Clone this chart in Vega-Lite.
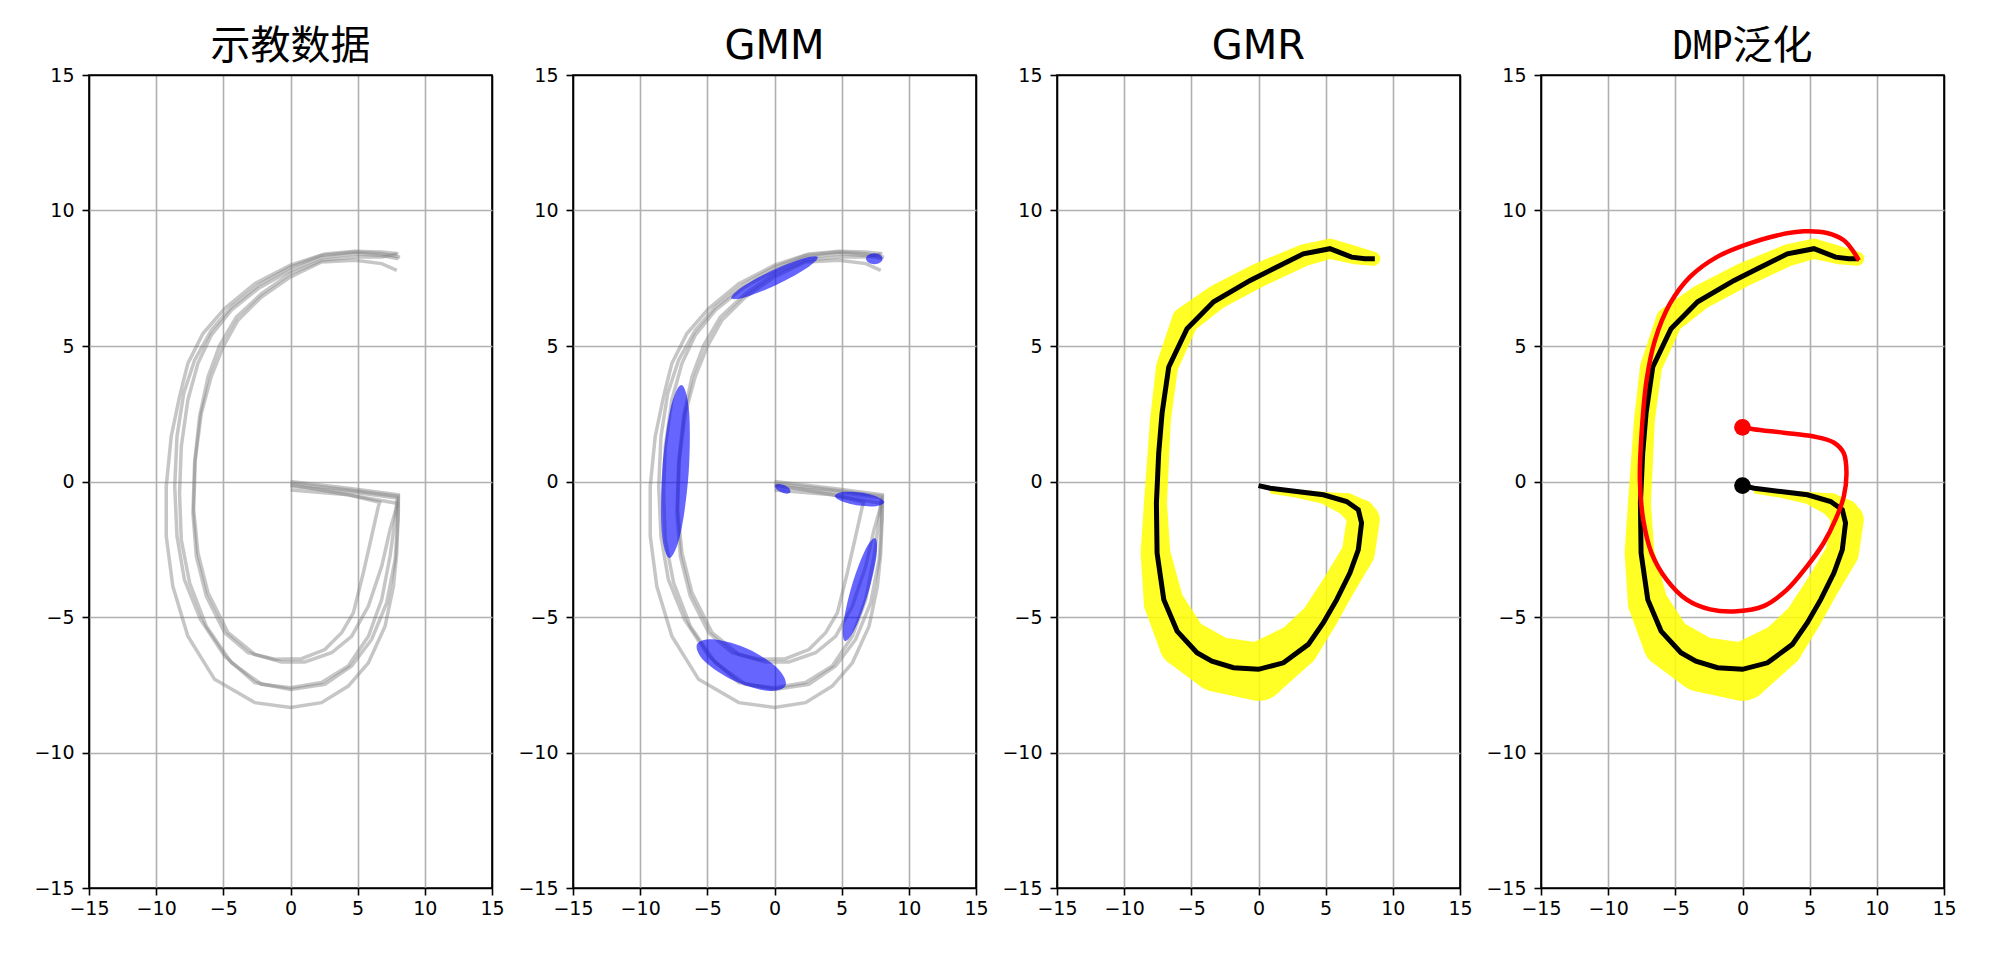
{
  "$schema": "https://vega.github.io/schema/vega-lite/v6.json",
  "background": "white",
  "padding": {"left": 33, "top": 26, "right": 5, "bottom": 5},
  "spacing": 12,
  "config": {
    "view": {"stroke": "black", "strokeWidth": 1.6},
    "axis": {"grid": true, "gridWidth": 1.6, "domain": false, "tickColor": "black", "tickSize": 7, "tickWidth": 1.6, "labelFont": "DejaVu Sans", "labelFontSize": 19, "labelColor": "black", "labelFlush": false, "title": null},
    "axisX": {"labelPadding": 4},
    "axisY": {"labelPadding": 8},
    "title": {"fontSize": 40, "fontWeight": "normal", "color": "black", "font": "DejaVu Sans", "offset": -1, "baseline": "alphabetic"}
  },
  "datasets": {
    "demos": [
      {"demo": "A", "t": 1, "x": 8.03, "y": 8.40}, {"demo": "A", "t": 2, "x": 6.79, "y": 8.47}, {"demo": "A", "t": 3, "x": 4.80, "y": 8.50}, {"demo": "A", "t": 4, "x": 2.56, "y": 8.40}, {"demo": "A", "t": 5, "x": 0, "y": 7.98}, {"demo": "A", "t": 6, "x": -2.66, "y": 7.30}, {"demo": "A", "t": 7, "x": -4.90, "y": 6.38}, {"demo": "A", "t": 8, "x": -6.52, "y": 5.46}, {"demo": "A", "t": 9, "x": -7.64, "y": 4.36}, {"demo": "A", "t": 10, "x": -8.26, "y": 3.13}, {"demo": "A", "t": 11, "x": -8.88, "y": 1.66}, {"demo": "A", "t": 12, "x": -9.25, "y": -0.18}, {"demo": "A", "t": 13, "x": -9.25, "y": -2.02}, {"demo": "A", "t": 14, "x": -8.76, "y": -3.87}, {"demo": "A", "t": 15, "x": -7.64, "y": -5.71}, {"demo": "A", "t": 16, "x": -5.65, "y": -7.30}, {"demo": "A", "t": 17, "x": -2.66, "y": -8.16}, {"demo": "A", "t": 18, "x": 0, "y": -8.34}, {"demo": "A", "t": 19, "x": 2.31, "y": -8.16}, {"demo": "A", "t": 20, "x": 4.30, "y": -7.55}, {"demo": "A", "t": 21, "x": 5.80, "y": -6.69}, {"demo": "A", "t": 22, "x": 7.04, "y": -5.34}, {"demo": "A", "t": 23, "x": 7.66, "y": -3.87}, {"demo": "A", "t": 24, "x": 7.91, "y": -2.64}, {"demo": "A", "t": 25, "x": 8.03, "y": -1.04}, {"demo": "A", "t": 26, "x": 8.03, "y": -0.49}, {"demo": "A", "t": 27, "x": 4.30, "y": -0.25}, {"demo": "A", "t": 28, "x": 0, "y": 0},
      {"demo": "B", "t": 1, "x": 8.16, "y": 8.28}, {"demo": "B", "t": 2, "x": 6.79, "y": 8.40}, {"demo": "B", "t": 3, "x": 4.80, "y": 8.47}, {"demo": "B", "t": 4, "x": 2.31, "y": 8.34}, {"demo": "B", "t": 5, "x": 0, "y": 7.91}, {"demo": "B", "t": 6, "x": -2.41, "y": 7.24}, {"demo": "B", "t": 7, "x": -4.40, "y": 6.44}, {"demo": "B", "t": 8, "x": -5.90, "y": 5.58}, {"demo": "B", "t": 9, "x": -7.14, "y": 4.48}, {"demo": "B", "t": 10, "x": -7.95, "y": 3.25}, {"demo": "B", "t": 11, "x": -8.45, "y": 1.66}, {"demo": "B", "t": 12, "x": -8.62, "y": -0.18}, {"demo": "B", "t": 13, "x": -8.45, "y": -2.02}, {"demo": "B", "t": 14, "x": -7.90, "y": -3.62}, {"demo": "B", "t": 15, "x": -6.70, "y": -5.09}, {"demo": "B", "t": 16, "x": -4.90, "y": -6.44}, {"demo": "B", "t": 17, "x": -2.66, "y": -7.42}, {"demo": "B", "t": 18, "x": 0, "y": -7.67}, {"demo": "B", "t": 19, "x": 2.56, "y": -7.48}, {"demo": "B", "t": 20, "x": 4.55, "y": -6.81}, {"demo": "B", "t": 21, "x": 6.04, "y": -5.83}, {"demo": "B", "t": 22, "x": 7.16, "y": -4.48}, {"demo": "B", "t": 23, "x": 7.79, "y": -2.88}, {"demo": "B", "t": 24, "x": 7.99, "y": -1.41}, {"demo": "B", "t": 25, "x": 8.03, "y": -0.55}, {"demo": "B", "t": 26, "x": 4.30, "y": -0.31}, {"demo": "B", "t": 27, "x": 0, "y": -0.06},
      {"demo": "C", "t": 1, "x": 8.03, "y": 8.22}, {"demo": "C", "t": 2, "x": 6.79, "y": 8.34}, {"demo": "C", "t": 3, "x": 4.80, "y": 8.40}, {"demo": "C", "t": 4, "x": 2.31, "y": 8.26}, {"demo": "C", "t": 5, "x": 0, "y": 7.79}, {"demo": "C", "t": 6, "x": -2.41, "y": 7.12}, {"demo": "C", "t": 7, "x": -4.40, "y": 6.32}, {"demo": "C", "t": 8, "x": -5.90, "y": 5.40}, {"demo": "C", "t": 9, "x": -6.89, "y": 4.36}, {"demo": "C", "t": 10, "x": -7.64, "y": 3.01}, {"demo": "C", "t": 11, "x": -8.13, "y": 1.29}, {"demo": "C", "t": 12, "x": -8.26, "y": -0.43}, {"demo": "C", "t": 13, "x": -8.13, "y": -2.15}, {"demo": "C", "t": 14, "x": -7.51, "y": -3.74}, {"demo": "C", "t": 15, "x": -6.27, "y": -5.34}, {"demo": "C", "t": 16, "x": -4.40, "y": -6.69}, {"demo": "C", "t": 17, "x": -2.16, "y": -7.48}, {"demo": "C", "t": 18, "x": 0, "y": -7.61}, {"demo": "C", "t": 19, "x": 2.31, "y": -7.42}, {"demo": "C", "t": 20, "x": 4.30, "y": -6.81}, {"demo": "C", "t": 21, "x": 5.80, "y": -5.71}, {"demo": "C", "t": 22, "x": 6.79, "y": -4.36}, {"demo": "C", "t": 23, "x": 7.41, "y": -2.76}, {"demo": "C", "t": 24, "x": 7.79, "y": -1.41}, {"demo": "C", "t": 25, "x": 7.91, "y": -0.80}, {"demo": "C", "t": 26, "x": 4.30, "y": -0.49}, {"demo": "C", "t": 27, "x": 0, "y": -0.31},
      {"demo": "D", "t": 1, "x": 7.91, "y": 7.79}, {"demo": "D", "t": 2, "x": 6.79, "y": 8.04}, {"demo": "D", "t": 3, "x": 4.80, "y": 8.16}, {"demo": "D", "t": 4, "x": 2.31, "y": 8.10}, {"demo": "D", "t": 5, "x": 0, "y": 7.55}, {"demo": "D", "t": 6, "x": -2.16, "y": 6.81}, {"demo": "D", "t": 7, "x": -3.91, "y": 5.95}, {"demo": "D", "t": 8, "x": -5.02, "y": 4.97}, {"demo": "D", "t": 9, "x": -5.90, "y": 3.87}, {"demo": "D", "t": 10, "x": -6.64, "y": 2.52}, {"demo": "D", "t": 11, "x": -7.09, "y": 0.80}, {"demo": "D", "t": 12, "x": -7.21, "y": -1.04}, {"demo": "D", "t": 13, "x": -6.89, "y": -2.64}, {"demo": "D", "t": 14, "x": -6.14, "y": -4.11}, {"demo": "D", "t": 15, "x": -4.65, "y": -5.58}, {"demo": "D", "t": 16, "x": -2.66, "y": -6.38}, {"demo": "D", "t": 17, "x": -0.67, "y": -6.66}, {"demo": "D", "t": 18, "x": 1.07, "y": -6.66}, {"demo": "D", "t": 19, "x": 3.06, "y": -6.32}, {"demo": "D", "t": 20, "x": 4.55, "y": -5.71}, {"demo": "D", "t": 21, "x": 5.80, "y": -4.60}, {"demo": "D", "t": 22, "x": 6.79, "y": -3.13}, {"demo": "D", "t": 23, "x": 7.41, "y": -1.78}, {"demo": "D", "t": 24, "x": 7.91, "y": -0.92}, {"demo": "D", "t": 25, "x": 7.91, "y": -0.61}, {"demo": "D", "t": 26, "x": 4.30, "y": -0.37}, {"demo": "D", "t": 27, "x": 0, "y": -0.18},
      {"demo": "E", "t": 1, "x": 7.91, "y": 8.40}, {"demo": "E", "t": 2, "x": 6.79, "y": 8.28}, {"demo": "E", "t": 3, "x": 4.80, "y": 8.28}, {"demo": "E", "t": 4, "x": 2.31, "y": 8.16}, {"demo": "E", "t": 5, "x": 0, "y": 7.67}, {"demo": "E", "t": 6, "x": -2.16, "y": 6.93}, {"demo": "E", "t": 7, "x": -4.03, "y": 6.07}, {"demo": "E", "t": 8, "x": -5.27, "y": 5.03}, {"demo": "E", "t": 9, "x": -6.14, "y": 3.87}, {"demo": "E", "t": 10, "x": -6.77, "y": 2.39}, {"demo": "E", "t": 11, "x": -7.14, "y": 0.67}, {"demo": "E", "t": 12, "x": -7.26, "y": -1.17}, {"demo": "E", "t": 13, "x": -7.01, "y": -2.76}, {"demo": "E", "t": 14, "x": -6.27, "y": -4.23}, {"demo": "E", "t": 15, "x": -4.90, "y": -5.58}, {"demo": "E", "t": 16, "x": -3.16, "y": -6.32}, {"demo": "E", "t": 17, "x": -1.17, "y": -6.56}, {"demo": "E", "t": 18, "x": 0.82, "y": -6.54}, {"demo": "E", "t": 19, "x": 2.56, "y": -6.20}, {"demo": "E", "t": 20, "x": 3.81, "y": -5.58}, {"demo": "E", "t": 21, "x": 4.68, "y": -4.85}, {"demo": "E", "t": 22, "x": 5.42, "y": -3.37}, {"demo": "E", "t": 23, "x": 6.04, "y": -2.02}, {"demo": "E", "t": 24, "x": 6.54, "y": -0.92}, {"demo": "E", "t": 25, "x": 6.64, "y": -0.77}, {"demo": "E", "t": 26, "x": 4.30, "y": -0.49}, {"demo": "E", "t": 27, "x": 0, "y": -0.12}
    ],
    "gmm": [
      {"comp": 1, "t": 1, "x": 3.22, "y": 8.28}, {"comp": 1, "t": 2, "x": 2.44, "y": 7.89}, {"comp": 1, "t": 3, "x": 0.24, "y": 7.28}, {"comp": 1, "t": 4, "x": -2.11, "y": 6.81}, {"comp": 1, "t": 5, "x": -3.22, "y": 6.76}, {"comp": 1, "t": 6, "x": -2.44, "y": 7.16}, {"comp": 1, "t": 7, "x": -0.24, "y": 7.77}, {"comp": 1, "t": 8, "x": 2.11, "y": 8.23},
      {"comp": 2, "t": 1, "x": 8.05, "y": 8.22}, {"comp": 2, "t": 2, "x": 7.87, "y": 8.36}, {"comp": 2, "t": 3, "x": 7.43, "y": 8.42}, {"comp": 2, "t": 4, "x": 6.99, "y": 8.36}, {"comp": 2, "t": 5, "x": 6.81, "y": 8.22}, {"comp": 2, "t": 6, "x": 6.99, "y": 8.08}, {"comp": 2, "t": 7, "x": 7.43, "y": 8.02}, {"comp": 2, "t": 8, "x": 7.87, "y": 8.08},
      {"comp": 3, "t": 1, "x": -6.93, "y": 3.56}, {"comp": 3, "t": 2, "x": -6.36, "y": 2.60}, {"comp": 3, "t": 3, "x": -6.39, "y": 0.33}, {"comp": 3, "t": 4, "x": -6.99, "y": -1.91}, {"comp": 3, "t": 5, "x": -7.82, "y": -2.82}, {"comp": 3, "t": 6, "x": -8.39, "y": -1.86}, {"comp": 3, "t": 7, "x": -8.36, "y": 0.40}, {"comp": 3, "t": 8, "x": -7.76, "y": 2.65},
      {"comp": 4, "t": 1, "x": 1.18, "y": -0.40}, {"comp": 4, "t": 2, "x": 0.93, "y": -0.45}, {"comp": 4, "t": 3, "x": 0.50, "y": -0.40}, {"comp": 4, "t": 4, "x": 0.14, "y": -0.28}, {"comp": 4, "t": 5, "x": 0.06, "y": -0.14}, {"comp": 4, "t": 6, "x": 0.31, "y": -0.09}, {"comp": 4, "t": 7, "x": 0.74, "y": -0.14}, {"comp": 4, "t": 8, "x": 1.10, "y": -0.26},
      {"comp": 5, "t": 1, "x": 8.17, "y": -0.77}, {"comp": 5, "t": 2, "x": 7.58, "y": -0.91}, {"comp": 5, "t": 3, "x": 6.27, "y": -0.89}, {"comp": 5, "t": 4, "x": 5.00, "y": -0.73}, {"comp": 5, "t": 5, "x": 4.50, "y": -0.53}, {"comp": 5, "t": 6, "x": 5.09, "y": -0.39}, {"comp": 5, "t": 7, "x": 6.40, "y": -0.41}, {"comp": 5, "t": 8, "x": 7.68, "y": -0.57},
      {"comp": 6, "t": 1, "x": 7.48, "y": -2.09}, {"comp": 6, "t": 2, "x": 7.60, "y": -2.71}, {"comp": 6, "t": 3, "x": 7.00, "y": -4.08}, {"comp": 6, "t": 4, "x": 6.03, "y": -5.40}, {"comp": 6, "t": 5, "x": 5.25, "y": -5.89}, {"comp": 6, "t": 6, "x": 5.12, "y": -5.27}, {"comp": 6, "t": 7, "x": 5.72, "y": -3.90}, {"comp": 6, "t": 8, "x": 6.70, "y": -2.58},
      {"comp": 7, "t": 1, "x": 0.82, "y": -7.54}, {"comp": 7, "t": 2, "x": -0.53, "y": -7.72}, {"comp": 7, "t": 3, "x": -3.02, "y": -7.35}, {"comp": 7, "t": 4, "x": -5.19, "y": -6.64}, {"comp": 7, "t": 5, "x": -5.77, "y": -6.01}, {"comp": 7, "t": 6, "x": -4.42, "y": -5.83}, {"comp": 7, "t": 7, "x": -1.93, "y": -6.19}, {"comp": 7, "t": 8, "x": 0.24, "y": -6.90}
    ],
    "gmr": [
      {"t": 1, "x": 0, "y": -0.15}, {"t": 2, "x": 0.87, "y": -0.25}, {"t": 3, "x": 2.85, "y": -0.37}, {"t": 4, "x": 4.83, "y": -0.49}, {"t": 5, "x": 6.56, "y": -0.74}, {"t": 6, "x": 7.43, "y": -1.04}, {"t": 7, "x": 7.67, "y": -1.53}, {"t": 8, "x": 7.43, "y": -2.52}, {"t": 9, "x": 6.81, "y": -3.37}, {"t": 10, "x": 5.82, "y": -4.36}, {"t": 11, "x": 4.83, "y": -5.21}, {"t": 12, "x": 3.71, "y": -6.01}, {"t": 13, "x": 1.86, "y": -6.69}, {"t": 14, "x": 0, "y": -6.93}, {"t": 15, "x": -1.86, "y": -6.87}, {"t": 16, "x": -3.47, "y": -6.63}, {"t": 17, "x": -4.58, "y": -6.32}, {"t": 18, "x": -6.06, "y": -5.52}, {"t": 19, "x": -7.05, "y": -4.36}, {"t": 20, "x": -7.55, "y": -2.64}, {"t": 21, "x": -7.60, "y": -0.80}, {"t": 22, "x": -7.43, "y": 1.04}, {"t": 23, "x": -7.18, "y": 2.52}, {"t": 24, "x": -6.68, "y": 4.23}, {"t": 25, "x": -5.32, "y": 5.64}, {"t": 26, "x": -3.34, "y": 6.63}, {"t": 27, "x": -0.62, "y": 7.42}, {"t": 28, "x": 1.11, "y": 7.85}, {"t": 29, "x": 3.34, "y": 8.40}, {"t": 30, "x": 5.32, "y": 8.59}, {"t": 31, "x": 6.93, "y": 8.28}, {"t": 32, "x": 7.92, "y": 8.22}, {"t": 33, "x": 8.66, "y": 8.22}
    ],
    "band": [
      {"t": 1, "x": 1.0, "y": -0.38, "sd": 0.15}, {"t": 2, "x": 2.85, "y": -0.45, "sd": 0.3}, {"t": 3, "x": 4.83, "y": -0.6, "sd": 0.45}, {"t": 4, "x": 6.6, "y": -0.85, "sd": 0.85}, {"t": 5, "x": 7.6, "y": -1.2, "sd": 1.1}, {"t": 6, "x": 7.8, "y": -1.41, "sd": 1.22}, {"t": 7, "x": 7.43, "y": -2.64, "sd": 1.22}, {"t": 8, "x": 5.94, "y": -3.87, "sd": 1.22}, {"t": 9, "x": 4.46, "y": -5.09, "sd": 1.33}, {"t": 10, "x": 2.85, "y": -6.07, "sd": 1.66}, {"t": 11, "x": 0, "y": -7.02, "sd": 2.14}, {"t": 12, "x": -3.09, "y": -6.75, "sd": 2.03}, {"t": 13, "x": -5.57, "y": -5.95, "sd": 1.85}, {"t": 14, "x": -7.05, "y": -4.48, "sd": 1.48}, {"t": 15, "x": -7.67, "y": -2.64, "sd": 1.1}, {"t": 16, "x": -7.67, "y": -0.8, "sd": 0.85}, {"t": 17, "x": -7.3, "y": 2.27, "sd": 0.77}, {"t": 18, "x": -6.81, "y": 4.23, "sd": 0.81}, {"t": 19, "x": -5.45, "y": 5.95, "sd": 1.0}, {"t": 20, "x": -3.09, "y": 6.81, "sd": 0.92}, {"t": 21, "x": 0, "y": 7.61, "sd": 0.89}, {"t": 22, "x": 3.34, "y": 8.34, "sd": 0.81}, {"t": 23, "x": 5.32, "y": 8.59, "sd": 0.74}, {"t": 24, "x": 7.3, "y": 8.34, "sd": 0.66}, {"t": 25, "x": 8.54, "y": 8.22, "sd": 0.52}
    ],
    "dmp": [
      {"t": 1, "x": 0, "y": 2.0}, {"t": 2, "x": 0.82, "y": 1.93}, {"t": 3, "x": 3.06, "y": 1.80}, {"t": 4, "x": 5.30, "y": 1.66}, {"t": 5, "x": 6.79, "y": 1.44}, {"t": 6, "x": 7.54, "y": 1.04}, {"t": 7, "x": 7.74, "y": 0.31}, {"t": 8, "x": 7.54, "y": -0.55}, {"t": 9, "x": 6.92, "y": -1.41}, {"t": 10, "x": 6.04, "y": -2.27}, {"t": 11, "x": 4.80, "y": -3.13}, {"t": 12, "x": 3.31, "y": -3.99}, {"t": 13, "x": 1.57, "y": -4.60}, {"t": 14, "x": -0.42, "y": -4.79}, {"t": 15, "x": -2.41, "y": -4.72}, {"t": 16, "x": -4.15, "y": -4.36}, {"t": 17, "x": -5.65, "y": -3.62}, {"t": 18, "x": -6.77, "y": -2.64}, {"t": 19, "x": -7.39, "y": -1.41}, {"t": 20, "x": -7.64, "y": 0.06}, {"t": 21, "x": -7.51, "y": 1.78}, {"t": 22, "x": -7.14, "y": 3.74}, {"t": 23, "x": -6.52, "y": 5.21}, {"t": 24, "x": -5.40, "y": 6.56}, {"t": 25, "x": -3.91, "y": 7.55}, {"t": 26, "x": -1.92, "y": 8.28}, {"t": 27, "x": 0.32, "y": 8.75}, {"t": 28, "x": 2.56, "y": 9.08}, {"t": 29, "x": 4.55, "y": 9.23}, {"t": 30, "x": 6.29, "y": 9.17}, {"t": 31, "x": 7.54, "y": 8.90}, {"t": 32, "x": 8.28, "y": 8.47}, {"t": 33, "x": 8.66, "y": 8.16}
    ],
    "starts": [
      {"name": "dmp", "x": 0, "y": 2.0},
      {"name": "gmr", "x": 0, "y": -0.15}
    ]
  },
  "hconcat": [
    {
      "width": 403, "height": 813,
      "title": {"text": "示教数据", "font": "Noto Sans Mono CJK SC, Noto Sans CJK SC"},
      "layer": [
        {
          "data": {"name": "demos"},
          "mark": {"type": "line", "color": "#808080", "opacity": 0.45, "strokeWidth": 3.5},
          "encoding": {
            "x": {"field": "x", "type": "quantitative", "scale": {"domain": [-15, 15], "nice": false, "zero": false}, "axis": {"values": [-15, -10, -5, 0, 5, 10, 15], "gridColor": {"condition": {"test": "abs(datum.value) >= 15", "value": "black"}, "value": "#b0b0b0"}}},
            "y": {"field": "y", "type": "quantitative", "scale": {"domain": [-15, 15], "nice": false, "zero": false}, "axis": {"values": [-15, -10, -5, 0, 5, 10, 15], "gridColor": {"condition": {"test": "abs(datum.value) >= 15", "value": "black"}, "value": "#b0b0b0"}}},
            "detail": {"field": "demo", "type": "nominal"},
            "order": {"field": "t", "type": "quantitative"}
          }
        }
      ]
    },
    {
      "width": 403, "height": 813,
      "title": {"text": "GMM"},
      "layer": [
        {
          "data": {"name": "demos"},
          "mark": {"type": "line", "color": "#808080", "opacity": 0.45, "strokeWidth": 3.5},
          "encoding": {
            "x": {"field": "x", "type": "quantitative", "scale": {"domain": [-15, 15], "nice": false, "zero": false}, "axis": {"values": [-15, -10, -5, 0, 5, 10, 15], "gridColor": {"condition": {"test": "abs(datum.value) >= 15", "value": "black"}, "value": "#b0b0b0"}}},
            "y": {"field": "y", "type": "quantitative", "scale": {"domain": [-15, 15], "nice": false, "zero": false}, "axis": {"values": [-15, -10, -5, 0, 5, 10, 15], "gridColor": {"condition": {"test": "abs(datum.value) >= 15", "value": "black"}, "value": "#b0b0b0"}}},
            "detail": {"field": "demo", "type": "nominal"},
            "order": {"field": "t", "type": "quantitative"}
          }
        },
        {
          "data": {"name": "gmm"},
          "mark": {"type": "line", "interpolate": "cardinal-closed", "filled": true, "fill": "#0000ff", "fillOpacity": 0.6, "strokeWidth": 0},
          "encoding": {
            "x": {"field": "x", "type": "quantitative", "scale": {"domain": [-15, 15], "nice": false, "zero": false}},
            "y": {"field": "y", "type": "quantitative", "scale": {"domain": [-15, 15], "nice": false, "zero": false}},
            "detail": {"field": "comp", "type": "nominal"},
            "order": {"field": "t", "type": "quantitative"}
          }
        }
      ]
    },
    {
      "width": 403, "height": 813,
      "title": {"text": "GMR"},
      "layer": [
        {
          "data": {"name": "band"},
          "mark": {"type": "trail", "color": "#ffff00", "opacity": 0.85},
          "encoding": {
            "x": {"field": "x", "type": "quantitative", "scale": {"domain": [-15, 15], "nice": false, "zero": false}, "axis": {"values": [-15, -10, -5, 0, 5, 10, 15], "gridColor": {"condition": {"test": "abs(datum.value) >= 15", "value": "black"}, "value": "#b0b0b0"}}},
            "y": {"field": "y", "type": "quantitative", "scale": {"domain": [-15, 15], "nice": false, "zero": false}, "axis": {"values": [-15, -10, -5, 0, 5, 10, 15], "gridColor": {"condition": {"test": "abs(datum.value) >= 15", "value": "black"}, "value": "#b0b0b0"}}},
            "size": {"field": "sd", "type": "quantitative", "scale": {"domain": [0, 3], "range": [0, 81.3]}, "legend": null},
            "order": {"field": "t", "type": "quantitative"}
          }
        },
        {
          "data": {"name": "gmr"},
          "mark": {"type": "line", "color": "black", "strokeWidth": 5},
          "encoding": {
            "x": {"field": "x", "type": "quantitative", "scale": {"domain": [-15, 15], "nice": false, "zero": false}},
            "y": {"field": "y", "type": "quantitative", "scale": {"domain": [-15, 15], "nice": false, "zero": false}},
            "order": {"field": "t", "type": "quantitative"}
          }
        }
      ]
    },
    {
      "width": 403, "height": 813,
      "title": {"text": "DMP泛化", "font": "Noto Sans Mono CJK SC, Noto Sans CJK SC"},
      "layer": [
        {
          "data": {"name": "band"},
          "mark": {"type": "trail", "color": "#ffff00", "opacity": 0.85},
          "encoding": {
            "x": {"field": "x", "type": "quantitative", "scale": {"domain": [-15, 15], "nice": false, "zero": false}, "axis": {"values": [-15, -10, -5, 0, 5, 10, 15], "gridColor": {"condition": {"test": "abs(datum.value) >= 15", "value": "black"}, "value": "#b0b0b0"}}},
            "y": {"field": "y", "type": "quantitative", "scale": {"domain": [-15, 15], "nice": false, "zero": false}, "axis": {"values": [-15, -10, -5, 0, 5, 10, 15], "gridColor": {"condition": {"test": "abs(datum.value) >= 15", "value": "black"}, "value": "#b0b0b0"}}},
            "size": {"field": "sd", "type": "quantitative", "scale": {"domain": [0, 3], "range": [0, 81.3]}, "legend": null},
            "order": {"field": "t", "type": "quantitative"}
          }
        },
        {
          "data": {"name": "gmr"},
          "mark": {"type": "line", "color": "black", "strokeWidth": 5},
          "encoding": {
            "x": {"field": "x", "type": "quantitative", "scale": {"domain": [-15, 15], "nice": false, "zero": false}},
            "y": {"field": "y", "type": "quantitative", "scale": {"domain": [-15, 15], "nice": false, "zero": false}},
            "order": {"field": "t", "type": "quantitative"}
          }
        },
        {
          "data": {"name": "dmp"},
          "mark": {"type": "line", "color": "#ff0000", "strokeWidth": 4.5, "interpolate": "catmull-rom"},
          "encoding": {
            "x": {"field": "x", "type": "quantitative", "scale": {"domain": [-15, 15], "nice": false, "zero": false}},
            "y": {"field": "y", "type": "quantitative", "scale": {"domain": [-15, 15], "nice": false, "zero": false}},
            "order": {"field": "t", "type": "quantitative"}
          }
        },
        {
          "data": {"name": "starts"},
          "mark": {"type": "point", "filled": true, "opacity": 1, "size": 280, "shape": "circle"},
          "encoding": {
            "x": {"field": "x", "type": "quantitative", "scale": {"domain": [-15, 15], "nice": false, "zero": false}},
            "y": {"field": "y", "type": "quantitative", "scale": {"domain": [-15, 15], "nice": false, "zero": false}},
            "color": {"field": "name", "type": "nominal", "scale": {"domain": ["dmp", "gmr"], "range": ["#ff0000", "black"]}, "legend": null}
          }
        }
      ]
    }
  ]
}
